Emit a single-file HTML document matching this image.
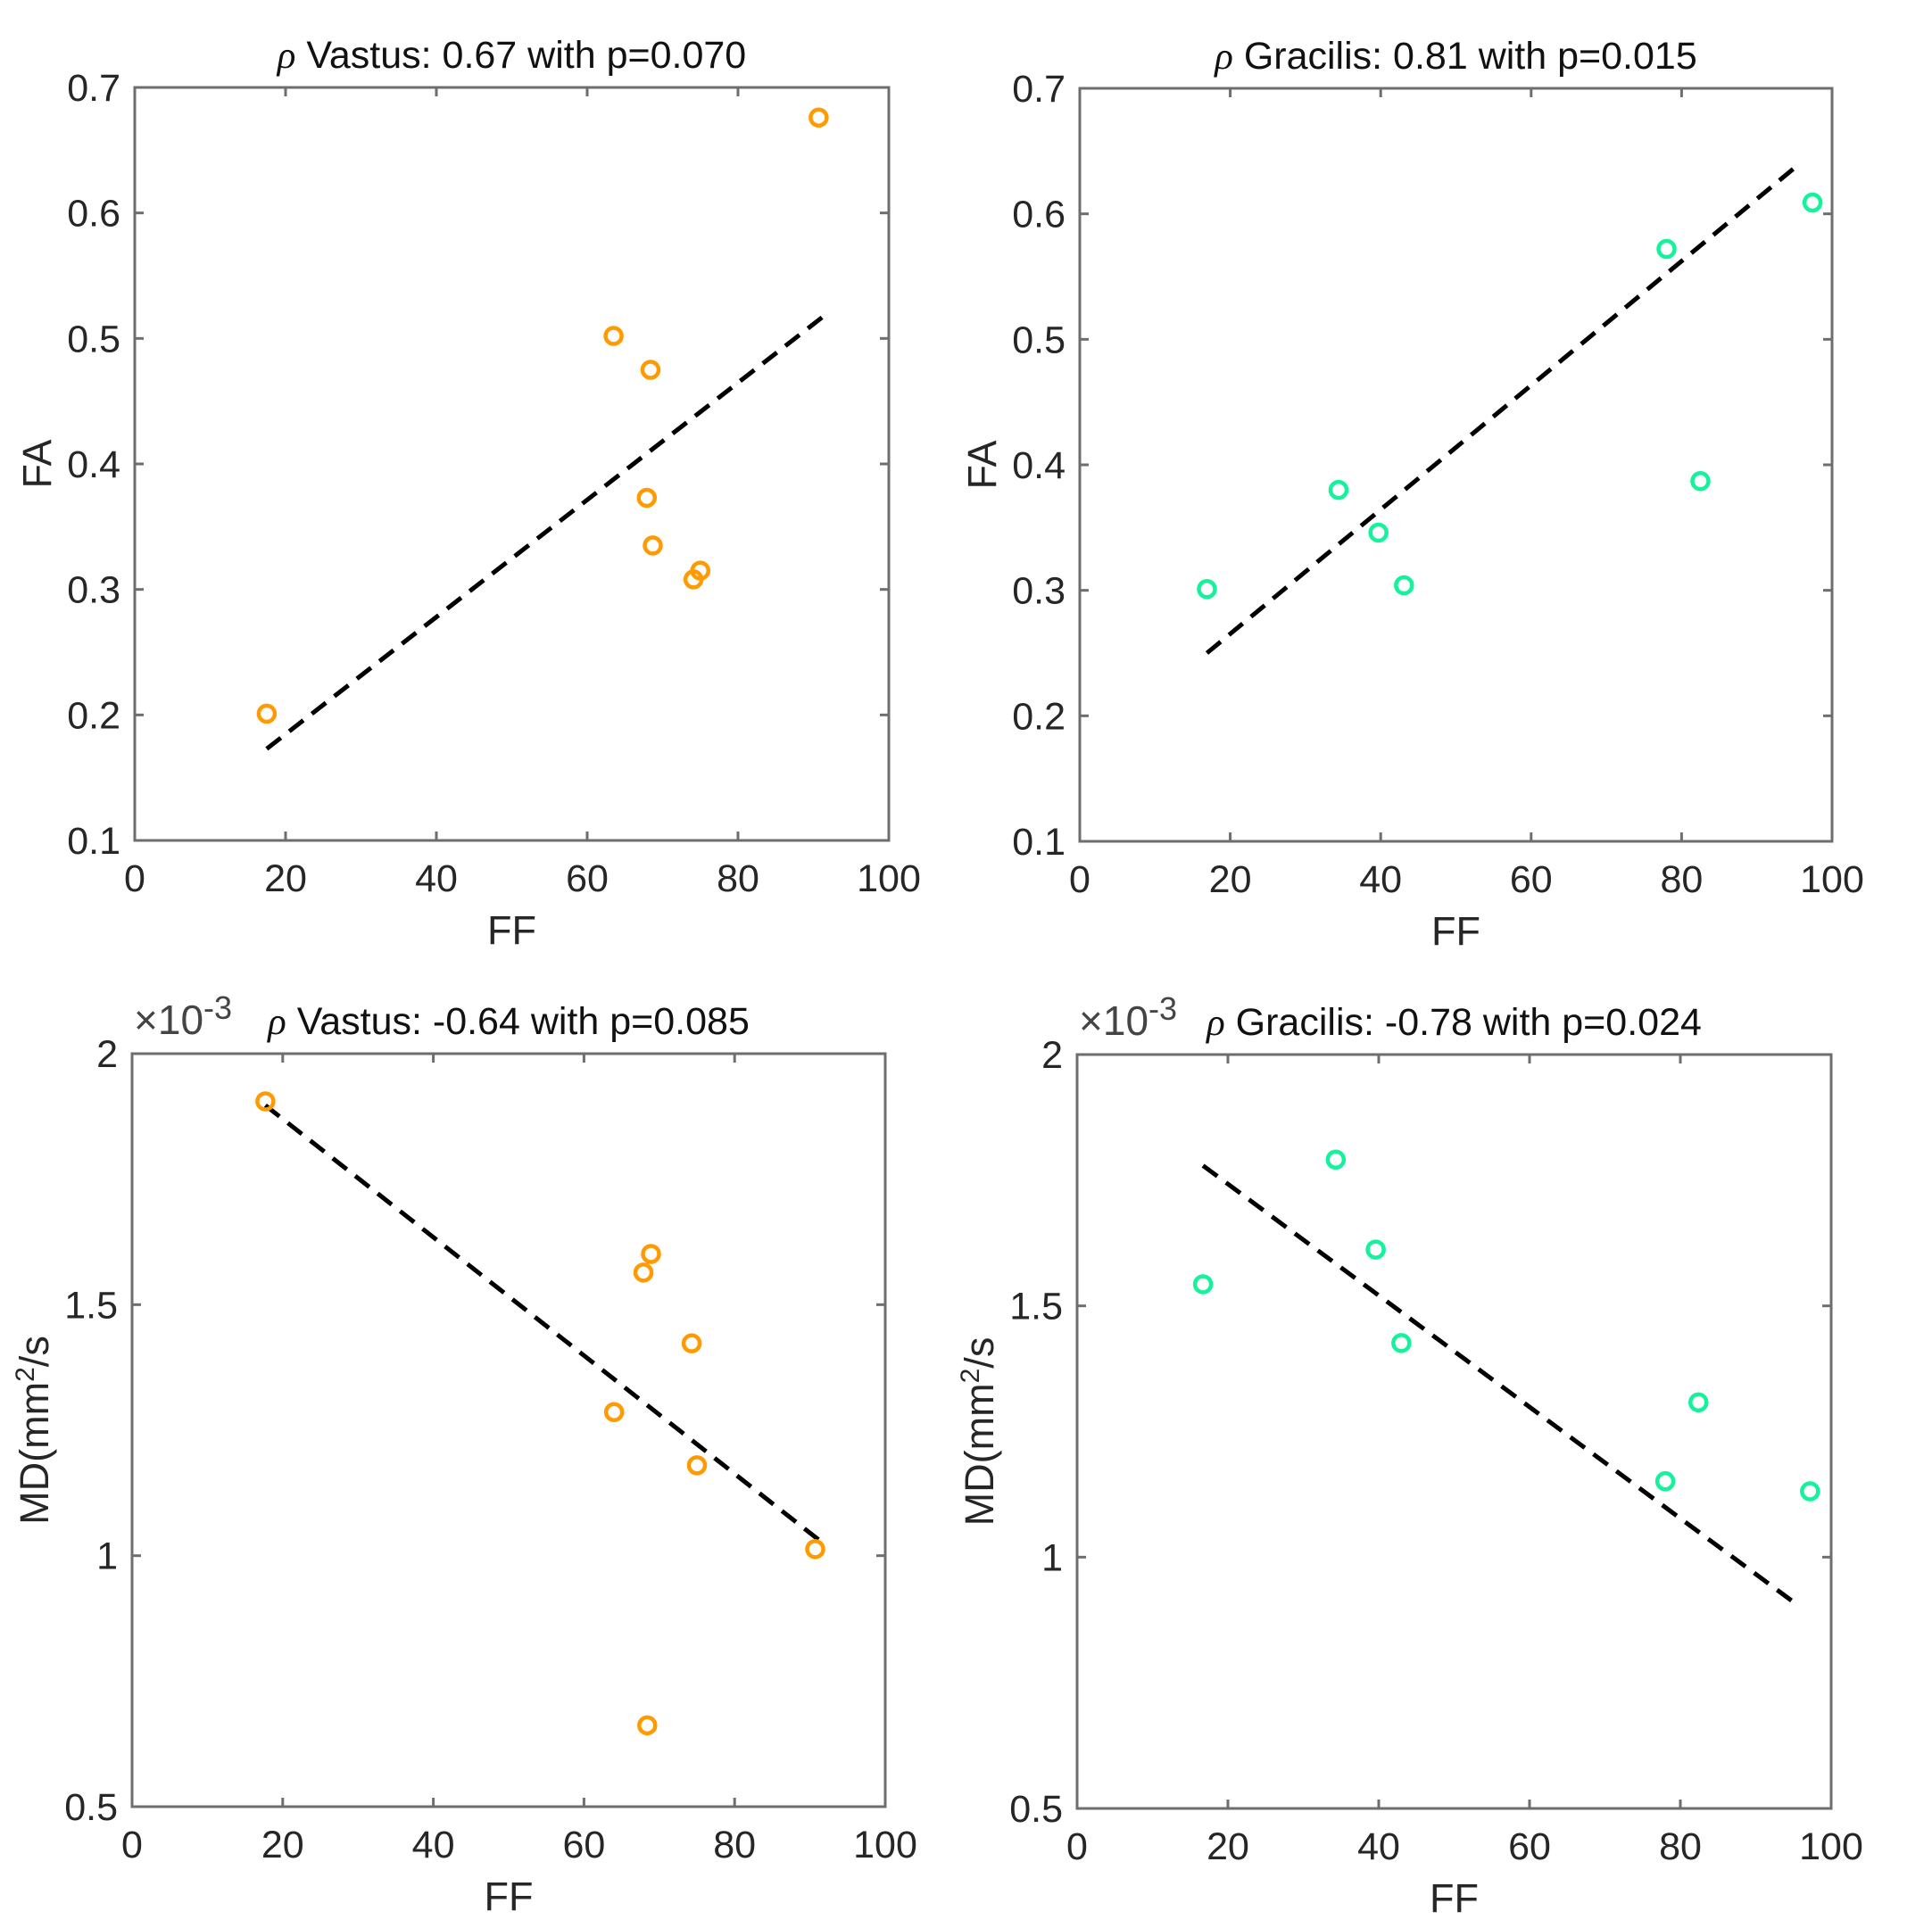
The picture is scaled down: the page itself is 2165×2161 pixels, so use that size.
<!DOCTYPE html>
<html><head><meta charset="utf-8"><style>
html,body{margin:0;padding:0;background:#fff;}
svg{display:block;font-family:"Liberation Sans",Arial,sans-serif;}
</style></head><body>
<svg id="fig" width="2165" height="2161" viewBox="0 0 2165 2161" xmlns="http://www.w3.org/2000/svg"></svg>
<script>
// Panel data
const vastusFF = [90.7, 63.5, 68.4, 67.9, 68.7, 75.0, 74.1, 17.5];
const vastusFA = [0.676, 0.502, 0.475, 0.373, 0.335, 0.315, 0.308, 0.201];
const vastusFAFit = [[17.5, 0.173], [91.2, 0.517]];
const gracilisFF = [16.9, 34.4, 39.7, 43.1, 78.0, 82.5, 97.4];
const gracilisFA = [0.301, 0.380, 0.346, 0.304, 0.572, 0.387, 0.609];
const gracilisFAFit = [[16.9, 0.250], [95.9, 0.641]];
const vastusMDFF = [17.7, 64.0, 67.9, 68.9, 74.3, 75.0, 90.7, 68.4];
const vastusMD = [1.905, 1.286, 1.564, 1.601, 1.423, 1.180, 1.013, 0.662];
const vastusMDFit = [[17.7, 1.897], [91.3, 1.030]];
const gracilisMDFF = [16.7, 34.3, 39.6, 43.0, 78.0, 82.4, 97.2];
const gracilisMD = [1.543, 1.791, 1.612, 1.426, 1.151, 1.308, 1.131];
const gracilisMDFit = [[16.7, 1.779], [95.7, 0.903]];
const xTicks = [0, 20, 40, 60, 80, 100];
const faTicks = [0.1, 0.2, 0.3, 0.4, 0.5, 0.6, 0.7];
const faTickLabels = ["0.1","0.2","0.3","0.4","0.5","0.6","0.7"];
const mdTicks = [0.5, 1, 1.5, 2];
const mdTickLabels = ["0.5","1","1.5","2"];

const NS = "http://www.w3.org/2000/svg";
const svg = document.getElementById('fig');
function mk(tag, attrs, parent, text) {
  const e = document.createElementNS(NS, tag);
  for (const k in attrs) e.setAttribute(k, attrs[k]);
  if (text !== undefined) e.textContent = text;
  (parent || svg).appendChild(e);
  return e;
}
const FS = 43;
const panels = [
  {name:'vastus-fa', box:[151,98,996,942], ymin:0.1, ymax:0.7, yt:faTicks, ytl:faTickLabels, xs:vastusFF, ys:vastusFA, fit:vastusFAFit, color:'#ff9a00', title:' Vastus: 0.67 with p=0.070', exp:false},
  {name:'gracilis-fa', box:[1210,99,2053,943], ymin:0.1, ymax:0.7, yt:faTicks, ytl:faTickLabels, xs:gracilisFF, ys:gracilisFA, fit:gracilisFAFit, color:'#14f29c', title:' Gracilis: 0.81 with p=0.015', exp:false},
  {name:'vastus-md', box:[148,1181,992,2025], ymin:0.5, ymax:2, yt:mdTicks, ytl:mdTickLabels, xs:vastusMDFF, ys:vastusMD, fit:vastusMDFit, color:'#ff9a00', title:' Vastus: -0.64 with p=0.085', exp:true},
  {name:'gracilis-md', box:[1207,1182,2052,2027], ymin:0.5, ymax:2, yt:mdTicks, ytl:mdTickLabels, xs:gracilisMDFF, ys:gracilisMD, fit:gracilisMDFit, color:'#14f29c', title:' Gracilis: -0.78 with p=0.024', exp:true}
];
panels.forEach(p => {
  const [L,T,R,B] = p.box;
  const g = mk('g', {});
  
  
  const X = v => L + (v - 0) / 100 * (R - L);
  const Y = v => B - (v - p.ymin) / (p.ymax - p.ymin) * (B - T);
  const ax = mk('rect', {x:L, y:T, width:R-L, height:B-T, fill:'#fff', stroke:'#6e6e6e', 'stroke-width':3}, g);
  
  
  xTicks.forEach(t => {
    const x = X(t);
    mk('line', {x1:x, y1:B, x2:x, y2:B-10, stroke:'#6e6e6e', 'stroke-width':3}, g);
    mk('line', {x1:x, y1:T, x2:x, y2:T+10, stroke:'#6e6e6e', 'stroke-width':3}, g);
    const tl = mk('text', {x:x, y:B+57, 'font-size':FS, fill:'#262626', 'text-anchor':'middle'}, g, String(t));
    
    
  });
  p.yt.forEach((t, i) => {
    const y = Y(t);
    mk('line', {x1:L, y1:y, x2:L+10, y2:y, stroke:'#6e6e6e', 'stroke-width':3}, g);
    mk('line', {x1:R, y1:y, x2:R-10, y2:y, stroke:'#6e6e6e', 'stroke-width':3}, g);
    const tl = mk('text', {x:L-16, y:y+15, 'font-size':FS, fill:'#262626', 'text-anchor':'end'}, g, p.ytl[i]);
    
    
  });
  const xl = mk('text', {x:(L+R)/2, y:B+116, 'font-size':FS+2, fill:'#262626', 'text-anchor':'middle'}, g, 'FF');
  
  
  const cy = (T+B)/2, cx = L - 94;
  const yl = mk('text', {x:cx, y:cy, 'font-size':FS+2, fill:'#262626', 'text-anchor':'middle', transform:`rotate(-90 ${cx} ${cy})`}, g);
  
  
  if (p.exp) {
    yl.textContent = 'MD(mm';
    mk('tspan', {'font-size':30, dy:-16}, yl, '2');
    mk('tspan', {dy:16}, yl, '/s');
    const ex = mk('text', {x:L+2, y:T-22, 'font-size':46, fill:'#444'}, g);
    
    
    ex.textContent = '\u00d710';
    mk('tspan', {'font-size':36, dy:-17}, ex, '-3');
  } else {
    yl.textContent = 'FA';
  }
  const tt = mk('text', {x:(L+R)/2, y:T-22, 'font-size':FS, fill:'#111', 'text-anchor':'middle'}, g);
  
  
  mk('tspan', {'font-family':'"Liberation Serif",serif', 'font-style':'italic'}, tt, '\u03c1');
  mk('tspan', {}, tt, p.title);
  const fl = mk('line', {x1:X(p.fit[0][0]), y1:Y(p.fit[0][1]), x2:X(p.fit[1][0]), y2:Y(p.fit[1][1]), stroke:'#000', 'stroke-width':5, 'stroke-dasharray':'20 12'}, g);
  
  
  p.xs.forEach((v, i) => {
    const c = mk('circle', {cx:X(v), cy:Y(p.ys[i]), r:9, fill:'none', stroke:p.color, 'stroke-width':4.5}, g);
    
    
  });
});
</script>
</body></html>
